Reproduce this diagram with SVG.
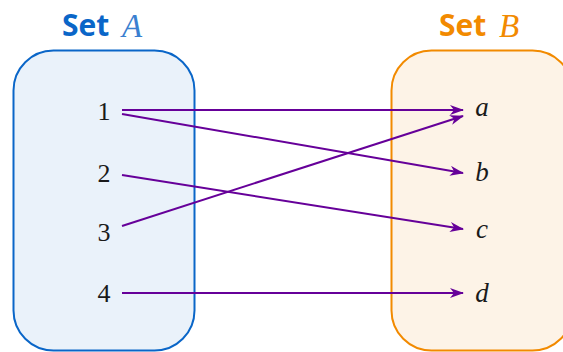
<svg xmlns="http://www.w3.org/2000/svg" width="563" height="352" viewBox="0 0 563 352">
<style>
.num{font-family:"Liberation Serif","DejaVu Serif",serif;font-size:26px;fill:#1a1a1a;text-anchor:middle}
.let{font-family:"Liberation Serif","DejaVu Serif",serif;font-style:italic;font-size:27px;fill:#1a1a1a;text-anchor:middle}
.ttl{font-family:"Open Sans","Noto Sans",sans-serif;font-weight:bold;font-size:30px}
.tvar{font-family:"Liberation Serif","DejaVu Serif",serif;font-style:italic;font-weight:normal;font-size:33px}
.conn{stroke:#660099;stroke-width:2;fill:none;marker-end:url(#ah)}
</style>
<defs>
<marker id="ah" viewBox="0 0 14 10" refX="13" refY="5" markerWidth="14" markerHeight="10" markerUnits="userSpaceOnUse" orient="auto">
<path d="M0,0 L14,5 L0,10 L4,5 Z" fill="#660099"/>
</marker>
</defs>
<g id="setA">
<rect x="13.5" y="50.5" width="181" height="300" rx="40" fill="#eaf2fa" stroke="#0a66c8" stroke-width="2"/>
<text x="62" y="36" class="ttl" fill="#0a66c8">Set</text>
<text x="122" y="37" class="tvar" fill="#3a7fd0">A</text>
</g>
<g id="setB">
<rect x="391.5" y="50.5" width="181" height="300" rx="40" fill="#fdf3e7" stroke="#f28a00" stroke-width="2"/>
<text x="439" y="36" class="ttl" fill="#f28a00">Set</text>
<text x="499" y="37" class="tvar" fill="#f28a00">B</text>
</g>
<g id="n1"><text x="104" y="120" class="num">1</text></g>
<g id="n2"><text x="104" y="182" class="num">2</text></g>
<g id="n3"><text x="104" y="241" class="num">3</text></g>
<g id="n4"><text x="104" y="302" class="num">4</text></g>
<g id="na"><text x="482" y="116" class="let">a</text></g>
<g id="nb"><text x="482" y="181" class="let">b</text></g>
<g id="nc"><text x="482" y="238" class="let">c</text></g>
<g id="nd"><text x="482" y="302" class="let">d</text></g>
<g id="connectors">
<line x1="122" y1="110" x2="463" y2="110" class="conn"/>
<line x1="122" y1="114" x2="463" y2="173" class="conn"/>
<line x1="122" y1="175" x2="463" y2="229" class="conn"/>
<line x1="122" y1="226" x2="463" y2="116" class="conn"/>
<line x1="122" y1="293" x2="463" y2="293" class="conn"/>
</g>
</svg>
